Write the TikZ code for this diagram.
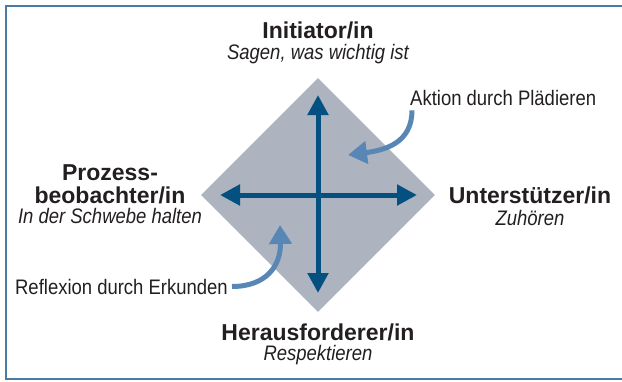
\documentclass[tikz,border=0pt]{standalone}
\usepackage{fontspec}
\setmainfont{Liberation Sans}
\newfontfamily\slimfont{Liberation Sans}[FakeStretch=0.88]
\usetikzlibrary{arrows.meta,shapes.geometric}

\definecolor{fieldgray}{RGB}{173,179,191}
\definecolor{axisblue}{RGB}{4,80,128}
\definecolor{hookblue}{RGB}{88,135,182}
\definecolor{framblue}{RGB}{74,122,166}
\definecolor{inkgray}{RGB}{35,31,32}

\begin{document}
\begin{tikzpicture}[x=1pt, y=-1pt, every node/.style={text=inkgray},
    role/.style = {anchor=base, inner sep=0pt, font=\bfseries\fontsize{23}{26}\selectfont},
    hint/.style = {anchor=base, inner sep=0pt, font=\slimfont\itshape\fontsize{21}{24}\selectfont},
    note/.style = {inner sep=0pt, font=\slimfont\fontsize{21}{24}\selectfont},
    axis/.style = {draw=axisblue, line width=5pt, {Triangle[length=20pt,width=20pt]}-{Triangle[length=20pt,width=20pt]}},
    hook/.style = {draw=hookblue, line width=5pt, -{Triangle[length=19pt,width=22pt]}}]
    \useasboundingbox (0,0) rectangle (622,381);
    \draw[framblue, line width=2pt] (6,6) rectangle (640,379);

    % the field and its two axes
    \node[diamond, fill=fieldgray, inner sep=0pt, minimum width=234pt, minimum height=234pt] (field) at (318,195) {};
    \coordinate (N) at (318,95);
    \coordinate (S) at (318,293);
    \coordinate (W) at (220,195);
    \coordinate (E) at (417,195);
    \draw[axis] (S) -- (N);
    \draw[axis] (W) -- (E);

    % the four roles
    \node[role] (ini) at (318,38) {Initiator/in};
    \node[hint] (iniH) at (318,59) {Sagen, was wichtig ist};
    \node[role] (unt) at (530,203) {Unterstützer/in};
    \node[hint] (untH) at (530,225) {Zuhören};
    \node[role] (her) at (318,340) {Herausforderer/in};
    \node[hint] (herH) at (318,360) {Respektieren};
    \node[role] (pro) at (110,180) {Prozess-};
    \node[role] (pro2) at (110,203) {beobachter/in};
    \node[hint] (proH) at (110,223) {In der Schwebe halten};

    % the two hints with bent arrows
    \node[note, anchor=base west] (act) at (410,105) {Aktion durch Plädieren};
    \node[note, anchor=base east] (refl) at (228,294) {Reflexion durch Erkunden};
    \coordinate (actTip) at (348,155);
    \coordinate (reflTip) at (280,225);
    \draw[hook] ([xshift=2pt,yshift=-5pt]act.south west) .. controls +(0,32) and (386,150) .. (actTip);
    \draw[hook] ([xshift=4pt]refl.east) .. controls +(34,0) and (281,266) .. (reflTip);
\end{tikzpicture}
\end{document}
